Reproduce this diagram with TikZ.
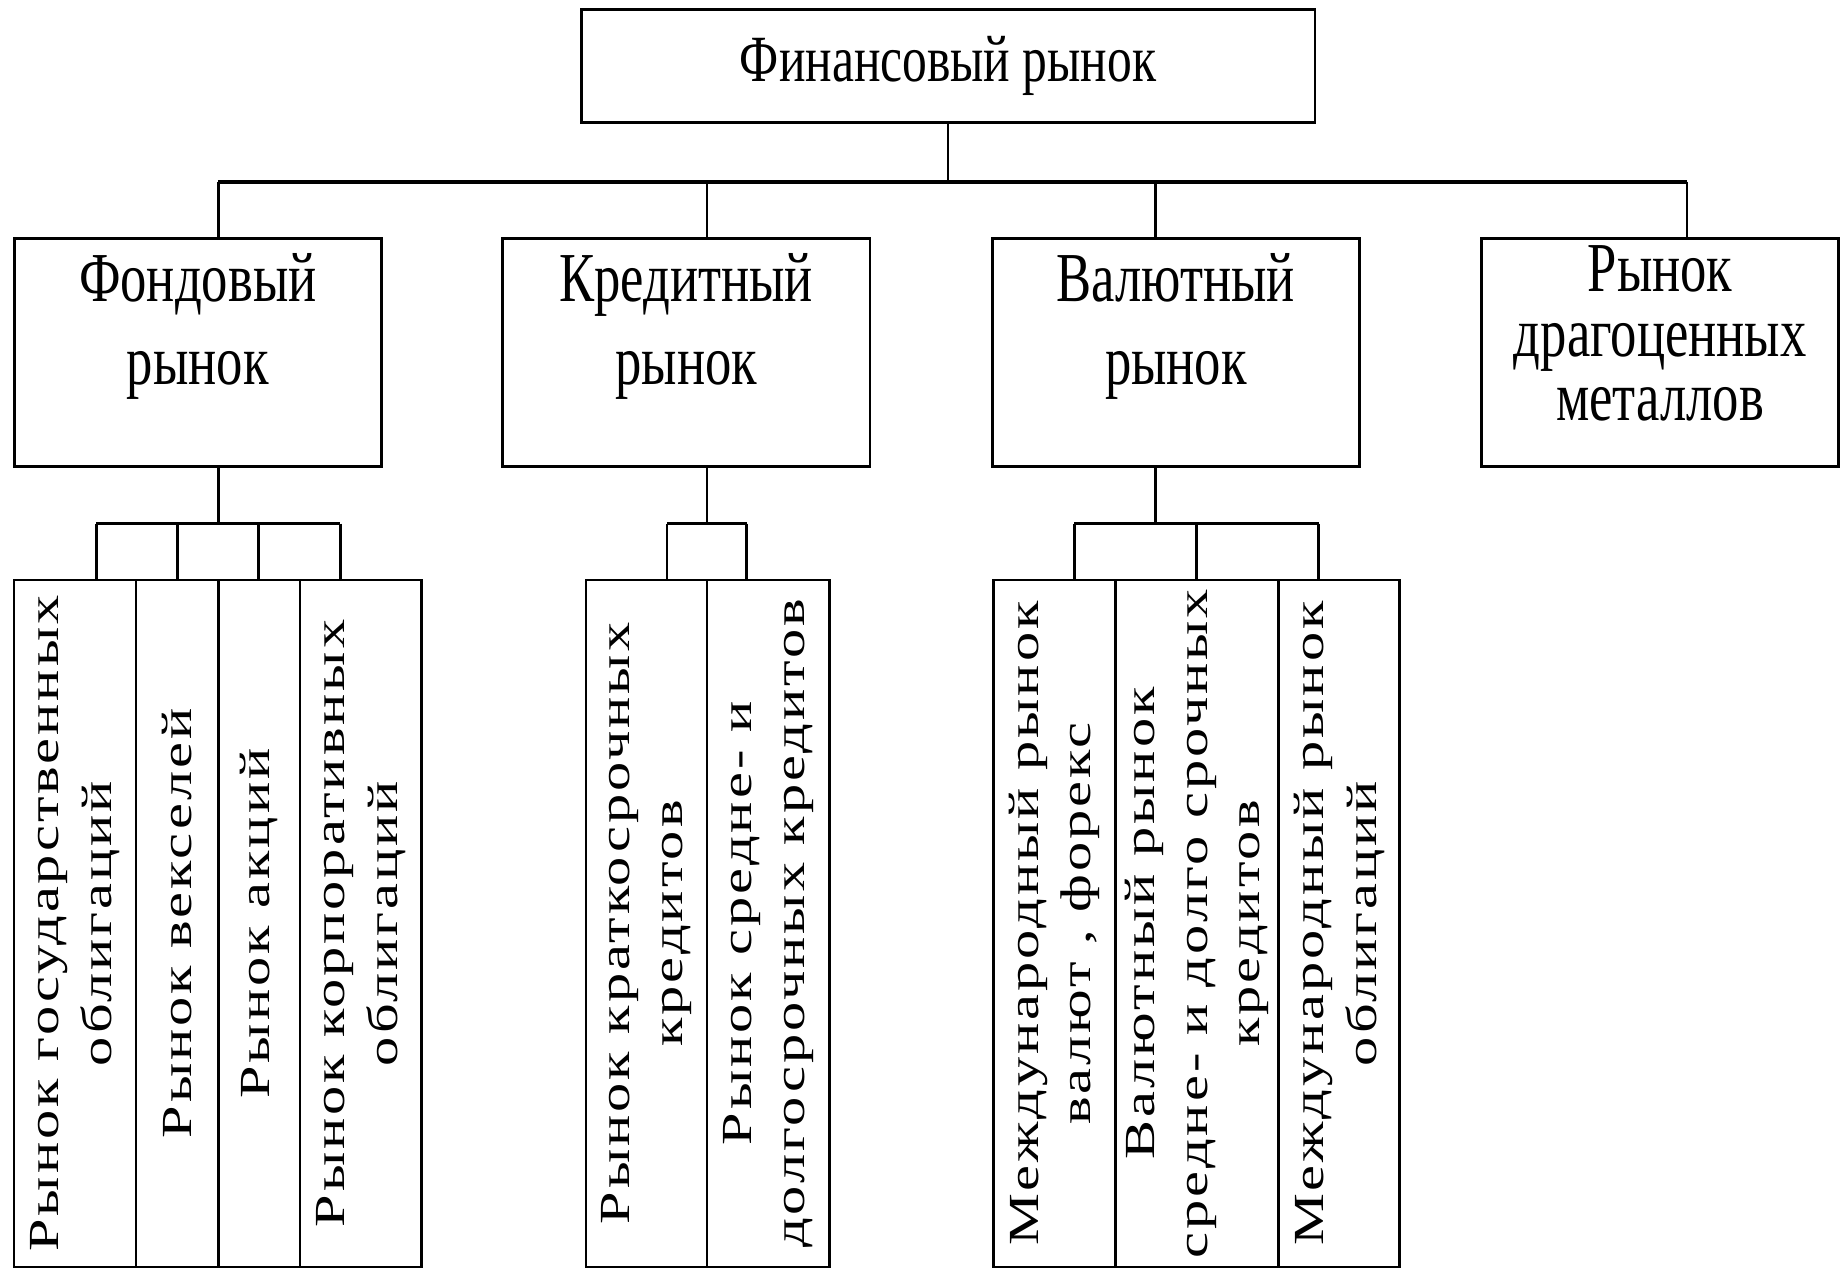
\documentclass[tikz,border=0pt]{standalone}
\usepackage{fontspec}
\setmainfont{Liberation Serif}
\newfontfamily\boxfont[FakeStretch=0.75]{Liberation Serif}
\newfontfamily\leaffont[FakeStretch=1.36,LetterSpace=7]{Liberation Serif}
\setlength{\lineskiplimit}{-20pt}

\begin{document}
\begin{tikzpicture}[x=0.1mm,y=-0.1mm,
		box/.style={draw=black,line width=0.7pt,inner sep=0pt},
		lvltext/.style={align=center,inner sep=0pt,font=\boxfont\fontsize{17pt}{20.2pt}\selectfont},
		leaf/.style={draw=black,line width=0.6pt,inner sep=0pt,rotate=90,align=center,
			minimum width=58.5mm,font=\leaffont\fontsize{10.4pt}{12.8pt}\selectfont},
		conn/.style={line width=0.6pt},
		bus/.style={line width=1pt}]
			\useasboundingbox (0,0) rectangle (1568,1081);
			
			% top
			
			\node[box,minimum width=62.5mm,minimum height=9.6mm,
				font=\boxfont\fontsize{16pt}{19pt}\selectfont] (fin) at (807.5,56) {Финансовый рынок};
			
			% markets
			
			\node[box,minimum width=31.3mm,minimum height=19.4mm] (fond) at (168.5,300) {};
			\node[box,minimum width=31.3mm,minimum height=19.4mm] (kred) at (584.5,300) {};
			\node[box,minimum width=31.3mm,minimum height=19.4mm] (val) at (1001.5,300) {};
			\node[box,minimum width=30.4mm,minimum height=19.4mm] (drag) at (1414,300) {};
			\node[lvltext] (fondT) at (168.5,278) {Фондовый\\рынок};
			\node[lvltext] (kredT) at (584.5,278) {Кредитный\\рынок};
			\node[lvltext] (valT) at (1001.5,278) {Валютный\\рынок};
			\node[lvltext,font={\boxfont\fontsize{17pt}{15.6pt}\selectfont}] (dragT) at (1414,284) {Рынок\\драгоценных\\металлов};
			
			% segments
			
			\node[leaf,minimum height=10.4mm] (gos) at (64,786.5) {Рынок государственных\\облигаций};
			\node[leaf,minimum height=7mm] (veks) at (151,786.5) {Рынок векселей};
			\node[leaf,minimum height=6.95mm] (akc) at (220.75,786.5) {Рынок акций};
			\node[leaf,minimum height=10.35mm] (korp) at (307.25,786.5) {Рынок корпоративных\\облигаций};
			\node[leaf,minimum height=10.3mm] (krat) at (550.5,786.5) {Рынок краткосрочных\\кредитов};
			\node[leaf,minimum height=10.45mm] (dolg) at (654.25,786.5) {Рынок средне- и\\долгосрочных кредитов};
			\node[leaf,minimum height=10.4mm] (forex) at (898,786.5) {Международный рынок\\валют , форекс};
			\node[leaf,minimum height=13.9mm] (vcred) at (1019.5,786.5) {Валютный рынок\\средне- и долго срочных\\кредитов};
			\node[leaf,minimum height=10.3mm] (mobl) at (1140.5,786.5) {Международный рынок\\облигаций};
			
			% tree
			
			\coordinate (b1) at (186,155);
			\coordinate (b2) at (602,155);
			\coordinate (b3) at (984,155);
			\coordinate (b4) at (1437,155);
			\draw[conn] (fin.south) -- (fin.south |- b1);
			\draw[bus] (b1) -- (b4);
			\foreach \b/\n in {b1/fond,b2/kred,b3/val,b4/drag}
				\draw[conn] (\b) -- (\b |- \n.north);
			\foreach \b/\n in {b1/fond,b2/kred,b3/val}
				\draw[conn] (\b |- \n.south) -- ++(0,49);
			
			\foreach \x/\n [count=\i] in {82/gos,151/veks,220/akc,290/korp,568/krat,636/dolg,915/forex,1019/vcred,1123/mobl} {
				\coordinate (s\i) at (\x,446);
				\draw[conn] (s\i) -- (s\i |- \n.east);
			}
			\draw[conn] (s1) -- (s4);
			\draw[conn] (s5) -- (s6);
			\draw[conn] (s7) -- (s9);
		\end{tikzpicture}
\end{document}
